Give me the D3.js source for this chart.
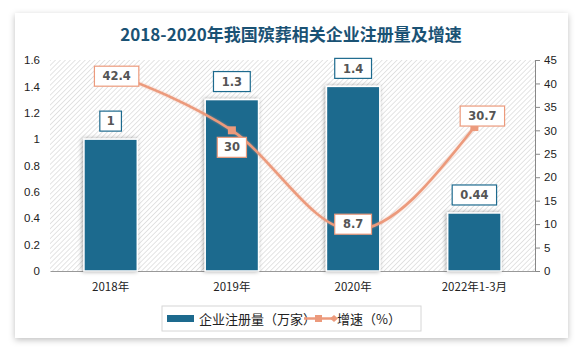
<!DOCTYPE html>
<html>
<head>
<meta charset="utf-8">
<script src="https://cdn.jsdelivr.net/npm/d3@7"></script>
<style>
  body { margin: 0; background: #fff; }
  svg { display: block; font-family: "DejaVu Sans", "Noto Sans CJK SC", sans-serif; }
</style>
</head>
<body>
<div id="chart"></div>
<script>
// 数据
const categories = ["2018年", "2019年", "2020年", "2022年1-3月"];
const registrations = [1, 1.3, 1.4, 0.44];
const growth = [42.4, 30, 8.7, 30.7];
const leftTicks = [0, 0.2, 0.4, 0.6, 0.8, 1, 1.2, 1.4, 1.6];
const rightTicks = [0, 5, 10, 15, 20, 25, 30, 35, 40, 45];

const W = 583, H = 352;
const margin = { top: 60, right: 48, bottom: 81, left: 50 };
const plotW = W - margin.left - margin.right;
const plotH = H - margin.top - margin.bottom;

const teal = "#1d6a8e";
const orange = "#ec9a7c";

const svg = d3.select("#chart").append("svg")
  .attr("width", W).attr("height", H);

const defs = svg.append("defs");

// sombra de la tarjeta
const shadow = defs.append("filter").attr("id", "cardShadow")
  .attr("x", "-5%").attr("y", "-5%").attr("width", "110%").attr("height", "110%");
shadow.append("feDropShadow").attr("dx", 0).attr("dy", 2).attr("stdDeviation", 3)
  .attr("flood-color", "#000").attr("flood-opacity", 0.25);

const barShadow = defs.append("filter").attr("id", "barShadow")
  .attr("x", "-20%").attr("y", "-20%").attr("width", "140%").attr("height", "140%");
barShadow.append("feDropShadow").attr("dx", -1).attr("dy", 0).attr("stdDeviation", 2)
  .attr("flood-color", "#000").attr("flood-opacity", 0.35);

const lineShadow = defs.append("filter").attr("id", "lineShadow");
lineShadow.append("feDropShadow").attr("dx", 0).attr("dy", 0).attr("stdDeviation", 1)
  .attr("flood-color", orange).attr("flood-opacity", 0.6);

// patrón rayado de fondo
const pat = defs.append("pattern").attr("id", "hatch")
  .attr("patternUnits", "userSpaceOnUse").attr("width", 3.5).attr("height", 3.5)
  .attr("patternTransform", "rotate(45)");
pat.append("rect").attr("width", 3.5).attr("height", 3.5).attr("fill", "#fff");
pat.append("line").attr("x1", 0).attr("y1", 0).attr("x2", 0).attr("y2", 3.5)
  .attr("stroke", "#d2d2d2").attr("stroke-width", 1.2);

// tarjeta
svg.append("rect")
  .attr("x", 15).attr("y", 13).attr("width", 553).attr("height", 325)
  .attr("fill", "#fff").attr("filter", "url(#cardShadow)");

// título
svg.append("text")
  .attr("x", 291).attr("y", 41)
  .attr("text-anchor", "middle")
  .attr("font-family", "'Noto Sans CJK SC', sans-serif")
  .attr("font-size", 17).attr("font-weight", "bold")
  .attr("fill", "#1a5274")
  .text("2018-2020年我国殡葬相关企业注册量及增速");

const g = svg.append("g").attr("transform", `translate(${margin.left},${margin.top})`);

// escalas
const x = d3.scaleBand().domain(categories).range([0, plotW]).paddingInner(0.56).paddingOuter(0.28);
const xc = d3.scalePoint().domain(categories).range([0, plotW]).padding(0.5);
const yL = d3.scaleLinear().domain([0, 1.6]).range([plotH, 0]);
const yR = d3.scaleLinear().domain([0, 45]).range([plotH, 0]);

g.append("rect").attr("width", plotW).attr("height", plotH).attr("fill", "url(#hatch)");

// ejes
const axL = g.append("g").call(d3.axisLeft(yL).tickValues(leftTicks).tickSize(0).tickPadding(10).tickFormat(d3.format("")));
axL.select(".domain").remove();
axL.selectAll("text").attr("font-size", 11.5).attr("fill", "#222");

const axR = g.append("g").attr("transform", `translate(${plotW},0)`)
  .call(d3.axisRight(yR).tickValues(rightTicks).tickSize(5).tickPadding(4));
axR.select(".domain").attr("stroke", "#888");
axR.selectAll("line").attr("stroke", "#888");
axR.selectAll("text").attr("font-size", 11.5).attr("fill", "#222");

const axB = g.append("g").attr("transform", `translate(0,${plotH})`)
  .call(d3.axisBottom(x).tickSize(0).tickPadding(12));
axB.select(".domain").attr("stroke", "#999");
axB.selectAll("text").attr("font-size", 11.5).attr("fill", "#222")
  .attr("font-family", "'Noto Sans CJK SC', sans-serif");

// ancho de caja según el texto
const boxW = d => String(d).length * 7.6 + 14;

// barras
g.append("g").selectAll("rect").data(registrations).join("rect")
  .attr("x", (d, i) => x(categories[i]))
  .attr("y", d => yL(d))
  .attr("width", x.bandwidth())
  .attr("height", d => plotH - yL(d))
  .attr("fill", teal).attr("stroke", "#fff").attr("stroke-width", 1.5)
  .attr("filter", "url(#barShadow)");

// etiquetas de barras
const barLab = g.append("g").selectAll("g").data(registrations).join("g")
  .attr("transform", (d, i) => `translate(${xc(categories[i])},${yL(d) - 18})`);
barLab.append("rect")
  .attr("x", d => -boxW(d) / 2).attr("y", -10)
  .attr("width", boxW).attr("height", 20)
  .attr("fill", "#fff").attr("stroke", teal).attr("stroke-width", 1.2);
barLab.append("text").attr("text-anchor", "middle").attr("dy", "0.36em")
  .attr("font-size", 11.5).attr("font-weight", "bold").attr("fill", "#555")
  .text(d => d);

// línea
const line = d3.line()
  .x((d, i) => xc(categories[i]))
  .y(d => yR(d))
  .curve(d3.curveMonotoneX);
g.append("path").datum(growth)
  .attr("d", line).attr("fill", "none")
  .attr("stroke", orange).attr("stroke-width", 2.5)
  .attr("filter", "url(#lineShadow)");

g.append("g").selectAll("rect").data(growth).join("rect")
  .attr("x", (d, i) => xc(categories[i]) - 4)
  .attr("y", d => yR(d) - 4)
  .attr("width", 8).attr("height", 8)
  .attr("fill", orange);

// etiquetas de la línea (desplazamientos)
const lineLabOffset = [[6, 4], [0, 17], [0, -6], [8, -11]];
const lineLab = g.append("g").selectAll("g").data(growth).join("g")
  .attr("transform", (d, i) => `translate(${xc(categories[i]) + lineLabOffset[i][0]},${yR(d) + lineLabOffset[i][1]})`);
lineLab.append("rect")
  .attr("x", d => -boxW(d) / 2).attr("y", -10)
  .attr("width", boxW).attr("height", 20)
  .attr("fill", "#fff").attr("stroke", orange).attr("stroke-width", 1.2);
lineLab.append("text").attr("text-anchor", "middle").attr("dy", "0.36em")
  .attr("font-size", 11.5).attr("font-weight", "bold").attr("fill", "#555")
  .text(d => d);

// leyenda
const leg = svg.append("g").attr("transform", "translate(162,306)");
leg.append("rect").attr("width", 259).attr("height", 25)
  .attr("fill", "#fff").attr("stroke", "#d6d6d6");
leg.append("rect").attr("x", 5).attr("y", 9).attr("width", 27).attr("height", 7).attr("fill", teal);
leg.append("text").attr("x", 37).attr("y", 13).attr("dy", "0.35em")
  .attr("font-family", "'Noto Sans CJK SC', sans-serif")
  .attr("font-size", 13).attr("fill", "#222").text("企业注册量（万家）");
leg.append("line").attr("x1", 142).attr("x2", 172).attr("y1", 12.5).attr("y2", 12.5)
  .attr("stroke", orange).attr("stroke-width", 2.5);
leg.append("rect").attr("x", 153).attr("y", 9).attr("width", 7).attr("height", 7).attr("fill", orange);
leg.append("path").attr("d", "M168,12.5 L172,9 L176,12.5 L172,16 Z").attr("fill", orange);
leg.append("text").attr("x", 175).attr("y", 13).attr("dy", "0.35em")
  .attr("font-family", "'Noto Sans CJK SC', sans-serif")
  .attr("font-size", 13).attr("fill", "#222").text("增速（%）");
</script>
</body>
</html>
